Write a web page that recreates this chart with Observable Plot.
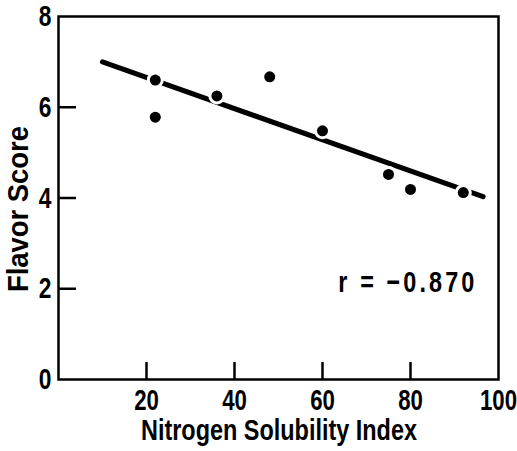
<!DOCTYPE html>
<html>
<head>
<meta charset="utf-8">
<script src="https://cdn.jsdelivr.net/npm/d3@7"></script>
<script src="https://cdn.jsdelivr.net/npm/@observablehq/plot@0.6"></script>
<style>
  html, body { margin: 0; padding: 0; background: #fff; }
  #chart { width: 517px; height: 451px; }
</style>
</head>
<body>
<div id="chart"></div>
<script>
// Data
const nsi = [22, 22, 36, 48, 60, 75, 80, 92];
const flavor = [6.60, 5.78, 6.25, 6.67, 5.48, 4.52, 4.19, 4.12];
// Regression line endpoints
const fitX = [10, 96.5];
const fitY = [7.0, 4.03];
// Annotation
const rLabel = ["r = \u22120.870"];
const rPos = { x: 63.6, y: 2.14 };
// Ticks
const xTicks = [20, 40, 60, 80];
const xTickLabels = [20, 40, 60, 80, 100];
const yTicks = [2, 4, 6];
const yTickLabels = [0, 2, 4, 6, 8];
const xLabel = "Nitrogen Solubility Index";
const yLabel = "Flavor Score";

const points = nsi.map((x, i) => ({ x, y: flavor[i] }));
const fit = fitX.map((x, i) => ({ x, y: fitY[i] }));

const font = "'Liberation Sans', Arial, sans-serif";

const chart = Plot.plot({
  width: 517,
  height: 451,
  marginLeft: 58,
  marginRight: 19,
  marginTop: 16,
  marginBottom: 72,
  style: { fontFamily: font, fontWeight: "bold", fontSize: "30px", color: "#000", background: "#fff" },
  x: { domain: [0, 100] },
  y: { domain: [0, 8] },
  marks: [
    Plot.axisX(xTicks, { tickSize: -17, strokeWidth: 2.5, text: null, label: null }),
    Plot.axisX(xTickLabels, { tickSize: 0, tickPadding: 9, fontSize: 30, label: null, className: "condx" }),
    Plot.axisY(yTicks, { tickSize: -18, strokeWidth: 2.5, text: null, label: null }),
    Plot.axisY(yTickLabels, { tickSize: 0, tickPadding: 7, fontSize: 30, label: null, className: "condy" }),
    Plot.frame({ stroke: "#000", strokeWidth: 2.5 }),
    Plot.line(fit, { x: "x", y: "y", stroke: "#000", strokeWidth: 5 }),
    Plot.dot(points, { x: "x", y: "y", r: 8.5, fill: "#fff" }),
    Plot.dot(points, { x: "x", y: "y", r: 5.5, fill: "#000" }),
    Plot.text(rLabel, { x: () => rPos.x, y: () => rPos.y, text: d => d, textAnchor: "start", fontSize: 30, fill: "#000", className: "rlab" })
  ]
});

const svg = d3.select(chart);

// Condense labels horizontally (narrow bold face, like the original)
function inClass(el, cls) {
  let n = el;
  while (n && n !== chart) {
    const c = n.getAttribute && n.getAttribute("class");
    if (c && c.split(/\s+/).some(s => s.startsWith(cls))) return true;
    n = n.parentNode;
  }
  return false;
}
function condense(cls, sx, ls) {
  svg.selectAll("text").filter(function () { return inClass(this, cls); }).each(function () {
    const t = d3.select(this);
    const tr = t.attr("transform") || "";
    t.attr("transform", tr + ` scale(${sx},1)`);
    if (ls) t.attr("letter-spacing", ls);
  });
}
condense("condx", 0.74, null);
condense("condy", 0.76, null);
condense("rlab", 0.78, "4px");

// Axis titles as real text
svg.append("text")
  .attr("x", 279).attr("y", 440)
  .attr("text-anchor", "middle")
  .attr("font-size", 29)
  .attr("textLength", 276)
  .attr("lengthAdjust", "spacingAndGlyphs")
  .attr("fill", "#000")
  .text(xLabel);
svg.append("text")
  .attr("transform", "translate(28,209) rotate(-90)")
  .attr("text-anchor", "middle")
  .attr("font-size", 29)
  .attr("textLength", 166)
  .attr("lengthAdjust", "spacingAndGlyphs")
  .attr("fill", "#000")
  .text(yLabel);

document.getElementById("chart").appendChild(chart);
</script>
</body>
</html>
